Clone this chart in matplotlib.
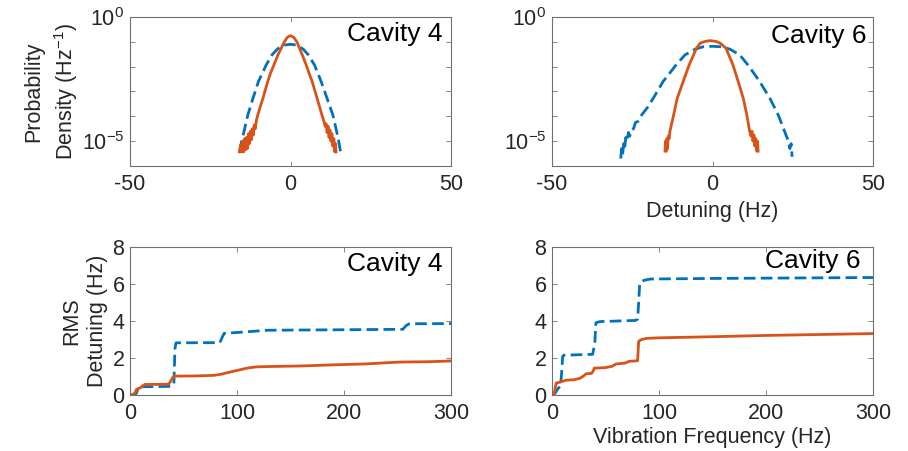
import matplotlib
matplotlib.use('Agg')
import matplotlib.pyplot as plt
import numpy as np
from matplotlib.ticker import FixedLocator, LogFormatterMathtext, NullFormatter

plt.rcParams['font.family'] = ['Liberation Sans', 'DejaVu Sans']
plt.rcParams['axes.unicode_minus'] = False
plt.rcParams['mathtext.fontset'] = 'custom'
plt.rcParams['mathtext.rm'] = 'Liberation Sans'
plt.rcParams['mathtext.it'] = 'Liberation Sans:italic'

BLUE = '#0072BD'
ORANGE = '#D95319'
TEXT = '#262626'
FRAME = '#707070'

## Probability density, cavity 4 (detuning in Hz, log10 of density)
c4_pdf_blue_x = [-15.9, -15.2, -14.5, -13.3, -11.7, -10.0, -7.6, -5.8, -4.0, -2.0, 0.0,
                 2.0, 4.0, 5.6, 7.5, 9.55, 11.4, 13.2, 14.4, 15.0, 15.6]
c4_pdf_blue_logy = [-5.43, -5.0, -4.62, -3.95, -3.28, -2.6, -1.94, -1.53, -1.28, -1.13, -1.1,
                    -1.13, -1.3, -1.53, -1.94, -2.6, -3.28, -3.95, -4.62, -5.0, -5.43]
c4_pdf_orange_x = [-15.9, -15.5, -15.2, -14.9, -14.6, -14.3, -14.0, -13.7, -13.4, -13.1,
                   -12.8, -12.5, -12.2, -11.9, -11.6, -11.3, -11.0, -10.6, -10.2, -9.4,
                   -8.6, -7.1, -6.2, -5.2, -4.0, -2.9, -2.0, -1.0, 0.0, 1.0, 2.0, 2.8,
                   3.9, 4.9, 5.8, 6.75, 8.3, 9.8, 10.4, 10.8, 11.1, 11.4, 11.7, 12.0,
                   12.3, 12.6, 12.9, 13.2, 13.5, 13.8, 14.0, 14.2]
c4_pdf_orange_logy = [-5.43, -5.15, -5.43, -5.0, -5.43, -4.9, -5.35, -4.85, -5.3, -4.7,
                      -5.1, -4.6, -4.95, -4.5, -4.75, -4.35, -4.5, -4.15, -3.95, -3.6,
                      -3.28, -2.6, -2.25, -1.94, -1.55, -1.26, -1.02, -0.82, -0.75, -0.82,
                      -1.0, -1.26, -1.6, -1.94, -2.27, -2.6, -3.28, -3.95, -4.2, -4.4,
                      -4.3, -4.65, -4.4, -4.85, -4.55, -5.0, -4.7, -5.2, -4.9, -5.43,
                      -5.1, -5.43]

## Probability density, cavity 6
c6_pdf_blue_x = [-28.6, -28.3, -28.0, -27.6, -27.3, -27.0, -26.6, -26.2, -25.8, -25.2,
                 -24.6, -24.0, -23.2, -22.1, -20.3, -18.5, -15.4, -11.4, -8.6, -5.5,
                 -3.0, 0.0, 3.0, 5.5, 8.5, 11.1, 14.7, 17.9, 20.5, 22.5, 23.5, 24.1,
                 24.5, 24.8]
c6_pdf_blue_logy = [-5.7, -5.3, -5.55, -5.0, -5.2, -4.85, -5.0, -4.65, -4.8, -4.55,
                    -4.5, -4.25, -4.2, -3.95, -3.65, -3.28, -2.6, -1.94, -1.53, -1.3,
                    -1.2, -1.18, -1.2, -1.3, -1.53, -1.94, -2.6, -3.28, -3.95, -4.62,
                    -4.95, -5.3, -5.1, -5.63]
c6_pdf_orange_x = [-14.8, -14.6, -14.4, -14.2, -14.0, -13.8, -13.5, -13.3, -12.2, -11.0,
                   -9.0, -7.3, -5.0, -3.9, -2.5, -0.8, 1.0, 2.5, 4.2, 6.4, 8.0, 9.6,
                   10.7, 11.6, 12.0, 12.3, 12.6, 12.9, 13.2, 13.5, 13.8, 14.0, 14.2]
c6_pdf_orange_logy = [-5.4, -5.0, -5.4, -4.9, -5.3, -4.8, -4.9, -4.62, -4.0, -3.28,
                      -2.55, -1.94, -1.26, -1.06, -0.99, -0.95, -0.98, -1.06, -1.26,
                      -1.94, -2.6, -3.28, -3.95, -4.62, -4.8, -4.6, -5.0, -4.75, -5.2,
                      -4.9, -5.4, -5.0, -5.4]

## Cumulative RMS detuning (Hz) vs vibration frequency (Hz), cavity 4
c4_rms_blue_f = [0, 4, 6, 8, 20, 39, 41, 42, 43, 84, 86, 88, 110, 128, 180, 255, 258, 261, 300]
c4_rms_blue_y = [0, 0, 0.1, 0.45, 0.45, 0.47, 0.6, 2.5, 2.82, 2.83, 3.1, 3.33, 3.42, 3.5,
                 3.52, 3.55, 3.75, 3.85, 3.86]
c4_rms_orange_f = [0, 3, 5, 6, 8, 10, 12, 14, 36, 38, 40, 42, 60, 78, 85, 92, 98, 104,
                   110, 118, 130, 160, 190, 220, 252, 280, 300]
c4_rms_orange_y = [0, 0.02, 0.15, 0.3, 0.35, 0.4, 0.5, 0.57, 0.58, 0.75, 0.95, 1.02, 1.03,
                   1.06, 1.12, 1.22, 1.3, 1.38, 1.46, 1.52, 1.54, 1.57, 1.63, 1.68, 1.78,
                   1.8, 1.84]

## Cumulative RMS detuning, cavity 6
c6_rms_blue_f = [0, 3, 5, 8, 9, 10, 11, 38, 40, 41, 45, 78, 80, 81, 82, 86, 92, 150, 300]
c6_rms_blue_y = [0, 0.1, 0.3, 0.5, 1.2, 2.1, 2.15, 2.2, 2.8, 3.9, 3.97, 4.03, 4.1, 5.0,
                 6.05, 6.2, 6.27, 6.3, 6.35]
c6_rms_orange_f = [0, 2, 3, 4, 8, 13, 20, 26, 30, 32, 37, 38.5, 39.5, 50, 56, 60, 68, 72,
                   80, 81, 83, 88, 100, 150, 200, 250, 300]
c6_rms_orange_y = [0, 0.05, 0.4, 0.65, 0.7, 0.8, 0.82, 0.9, 1.05, 1.15, 1.17, 1.3, 1.45,
                   1.48, 1.55, 1.68, 1.72, 1.82, 1.85, 2.9, 2.98, 3.06, 3.09, 3.15, 3.22,
                   3.27, 3.32]

LW = 2.0
DASH = (4.2, 1.9)
FS = 15.5
TAG_FS = 19


def style_axes(ax):
  for side in ax.spines.values():
    side.set_color(FRAME)
    side.set_linewidth(0.8)
  ax.tick_params(which='both', direction='in', top=True, right=True,
                 color=FRAME, width=0.6, labelcolor=TEXT, labelsize=FS)
  ax.tick_params(which='major', length=3.5)
  ax.tick_params(which='minor', length=3.5)
  ax.tick_params(axis='x', pad=6)
  ax.tick_params(axis='y', pad=4)


fig = plt.figure(figsize=(9.08, 4.51), dpi=100)
W, H = 908.0, 451.0

def px_axes(left, top, right, bottom):
  return fig.add_axes([left / W, 1 - bottom / H, (right - left) / W, (bottom - top) / H])

ax_pdf4 = px_axes(130, 17, 451, 166)
ax_pdf6 = px_axes(552, 17, 873, 166)
ax_rms4 = px_axes(130, 247, 451, 395)
ax_rms6 = px_axes(552, 247, 873, 395)

## Top row: probability densities on a log axis.
pdf_sets = [(ax_pdf4, c4_pdf_blue_x, c4_pdf_blue_logy, c4_pdf_orange_x, c4_pdf_orange_logy),
            (ax_pdf6, c6_pdf_blue_x, c6_pdf_blue_logy, c6_pdf_orange_x, c6_pdf_orange_logy)]
for ax, bx, by, ox, oy in pdf_sets:
  ax.plot(bx, 10.0 ** np.array(by), color=BLUE, lw=LW, dashes=DASH)
  ax.plot(ox, 10.0 ** np.array(oy), color=ORANGE, lw=LW)
  ax.set_yscale('log')
  ax.set_xlim(-50, 50)
  ax.set_ylim(1e-6, 1)
  ax.set_xticks([-50, 0, 50])
  ax.yaxis.set_major_locator(FixedLocator([1e-5, 1e0]))
  ax.yaxis.set_major_formatter(LogFormatterMathtext())
  ax.yaxis.set_minor_locator(FixedLocator([1e-4, 1e-3, 1e-2, 1e-1]))
  ax.yaxis.set_minor_formatter(NullFormatter())
  style_axes(ax)

## Bottom row: cumulative RMS detuning.
rms_sets = [(ax_rms4, c4_rms_blue_f, c4_rms_blue_y, c4_rms_orange_f, c4_rms_orange_y),
            (ax_rms6, c6_rms_blue_f, c6_rms_blue_y, c6_rms_orange_f, c6_rms_orange_y)]
for ax, bx, by, ox, oy in rms_sets:
  ax.plot(bx, by, color=BLUE, lw=LW, dashes=DASH)
  ax.plot(ox, oy, color=ORANGE, lw=LW)
  ax.set_xlim(0, 300)
  ax.set_ylim(0, 8)
  ax.set_xticks([0, 100, 200, 300])
  ax.set_yticks([0, 2, 4, 6, 8])
  style_axes(ax)

## Panel tags.
ax_pdf4.text(0.972, 0.965, 'Cavity 4', transform=ax_pdf4.transAxes, ha='right', va='top',
             fontsize=TAG_FS, color='black')
ax_pdf6.text(0.98, 0.955, 'Cavity 6', transform=ax_pdf6.transAxes, ha='right', va='top',
             fontsize=TAG_FS, color='black')
ax_rms4.text(0.972, 0.965, 'Cavity 4', transform=ax_rms4.transAxes, ha='right', va='top',
             fontsize=TAG_FS, color='black')
ax_rms6.text(0.96, 0.985, 'Cavity 6', transform=ax_rms6.transAxes, ha='right', va='top',
             fontsize=TAG_FS, color='black')

## Axis labels.
fig.text(51.5 / W, 1 - 91.5 / H, 'Probability\nDensity (Hz$^{-1}$)', rotation=90,
         ha='center', va='center', multialignment='center', fontsize=FS, color=TEXT,
         linespacing=1.4)
fig.text(84.5 / W, 1 - 321 / H, 'RMS\nDetuning (Hz)', rotation=90,
         ha='center', va='center', multialignment='center', fontsize=FS, color=TEXT,
         linespacing=1.3)
fig.text(712.5 / W, 1 - 212 / H, 'Detuning (Hz)', ha='center', va='center',
         fontsize=FS, color=TEXT)
fig.text(712.5 / W, 1 - 437 / H, 'Vibration Frequency (Hz)', ha='center', va='center',
         fontsize=FS, color=TEXT)

fig.savefig('out.png', dpi=100, facecolor='white')
